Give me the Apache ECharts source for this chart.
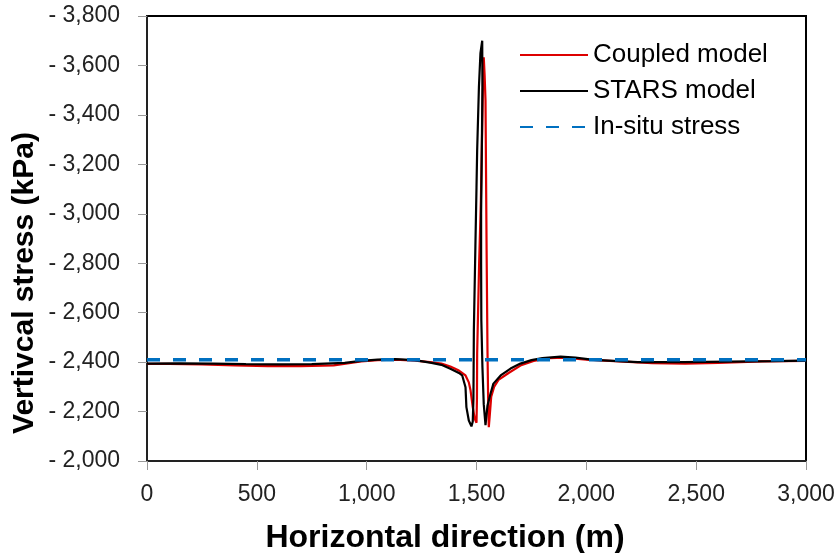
<!DOCTYPE html>
<html>
<head>
<meta charset="utf-8">
<script src="https://cdn.jsdelivr.net/npm/echarts@6/dist/echarts.min.js"></script>
<style>
  html, body { margin: 0; padding: 0; background: #fff; }
  #chart { width: 839px; height: 553px; }
</style>
</head>
<body>
<div id="chart"></div>
<script>
// Vertical stress profile along the horizontal direction (m, kPa)
const coupledModel = [
  [0, 2393], [100, 2393], [250, 2391], [400, 2387], [550, 2384], [700, 2384],
  [850, 2387], [975, 2403], [1050, 2408], [1130, 2410], [1220, 2406], [1300, 2399],
  [1340, 2394], [1381, 2382], [1420, 2366], [1450, 2346], [1465, 2318], [1473, 2285],
  [1483, 2218], [1492, 2171], [1500, 2155], [1502, 2250], [1503, 2435], [1512, 2800],
  [1520, 3054], [1526, 3350], [1530, 3550], [1533, 3633], [1537, 3560], [1541, 3458],
  [1546, 2851], [1550, 2447], [1553, 2250], [1556, 2137], [1560, 2180], [1567, 2260],
  [1580, 2300], [1600, 2328], [1646, 2356], [1700, 2386], [1760, 2405], [1830, 2416],
  [1900, 2418], [2000, 2410], [2150, 2403], [2300, 2396], [2450, 2394], [2600, 2397],
  [2800, 2403], [3000, 2405]
];

const starsModel = [
  [0, 2394], [150, 2395], [300, 2394], [450, 2392], [600, 2391], [750, 2392],
  [900, 2397], [975, 2405], [1050, 2410], [1130, 2412], [1220, 2408], [1295, 2397],
  [1340, 2389], [1381, 2373], [1420, 2356], [1435, 2346], [1450, 2298], [1454, 2218],
  [1465, 2164], [1477, 2140], [1483, 2160], [1486, 2250], [1488, 2530], [1495, 2870],
  [1500, 3106], [1503, 3256], [1511, 3512], [1518, 3650], [1526, 3700], [1527, 3512],
  [1524, 3250], [1521, 3000], [1521, 2800], [1522, 2570], [1527, 2380], [1533, 2230],
  [1541, 2145], [1550, 2224], [1564, 2273], [1577, 2313], [1610, 2346], [1655, 2374],
  [1700, 2394], [1750, 2408], [1800, 2416], [1883, 2422], [1950, 2418], [2034, 2409],
  [2234, 2400], [2444, 2400], [2650, 2402], [2850, 2404], [3000, 2406]
];

const inSituStress = [[0, 2410], [3000, 2410]];

const seriesNames = ['Coupled model', 'STARS model', 'In-situ stress'];
const xTitle = 'Horizontal direction (m)';
const yTitle = 'Vertivcal stress (kPa)';

const fmt = v => Number(v).toLocaleString('en-US');

const chart = echarts.init(document.getElementById('chart'), null, { renderer: 'canvas' });

chart.setOption({
  animation: false,
  backgroundColor: '#ffffff',
  grid: {
    left: 147, right: 33, top: 16, bottom: 92,
    show: true, borderColor: '#000', borderWidth: 2, backgroundColor: 'transparent'
  },
  legend: {
    orient: 'vertical',
    left: 514, top: 37,
    itemWidth: 68, itemHeight: 14, itemGap: 10,
    data: seriesNames,
    itemStyle: { opacity: 0 },
    textStyle: { fontFamily: 'Liberation Sans, Arial, sans-serif', fontSize: 26, color: '#000' }
  },
  xAxis: {
    type: 'value', min: 0, max: 3000, interval: 500,
    axisLine: { show: true, lineStyle: { color: '#222', width: 2 } },
    axisTick: { show: true, inside: false, length: 9, lineStyle: { color: '#999', width: 1 } },
    splitLine: { show: false },
    axisLabel: {
      margin: 22, formatter: fmt,
      fontFamily: 'Liberation Sans, Arial, sans-serif', fontSize: 23, color: '#222'
    }
  },
  yAxis: {
    type: 'value', min: 2000, max: 3800, interval: 200,
    axisLine: { show: true, lineStyle: { color: '#222', width: 2 } },
    axisTick: { show: true, inside: false, length: 9, lineStyle: { color: '#999', width: 1 } },
    splitLine: { show: false },
    axisLabel: {
      margin: 27, formatter: v => '- ' + fmt(v),
      fontFamily: 'Liberation Sans, Arial, sans-serif', fontSize: 23, color: '#222'
    }
  },
  graphic: [
    {
      type: 'text', x: 445, y: 538,
      style: {
        text: xTitle, align: 'center', verticalAlign: 'middle',
        font: 'bold 32px "Liberation Sans", Arial, sans-serif', fill: '#000'
      }
    },
    {
      type: 'text', x: 25, y: 283, rotation: Math.PI / 2,
      style: {
        text: yTitle, align: 'center', verticalAlign: 'middle',
        font: 'bold 30px "Liberation Sans", Arial, sans-serif', fill: '#000'
      }
    }
  ],
  series: [
    {
      name: seriesNames[0], type: 'line', data: coupledModel,
      showSymbol: false, symbol: 'none', smooth: false,
      lineStyle: { color: '#DD0000', width: 2.2 }, itemStyle: { color: '#DD0000' }
    },
    {
      name: seriesNames[1], type: 'line', data: starsModel,
      showSymbol: false, symbol: 'none', smooth: false,
      lineStyle: { color: '#000000', width: 2.2 }, itemStyle: { color: '#000000' }
    },
    {
      name: seriesNames[2], type: 'line', data: inSituStress,
      showSymbol: false, symbol: 'none',
      lineStyle: { color: '#0070C0', width: 3.5, type: [13, 13] }, itemStyle: { color: '#0070C0' }
    }
  ]
});
</script>
</body>
</html>
